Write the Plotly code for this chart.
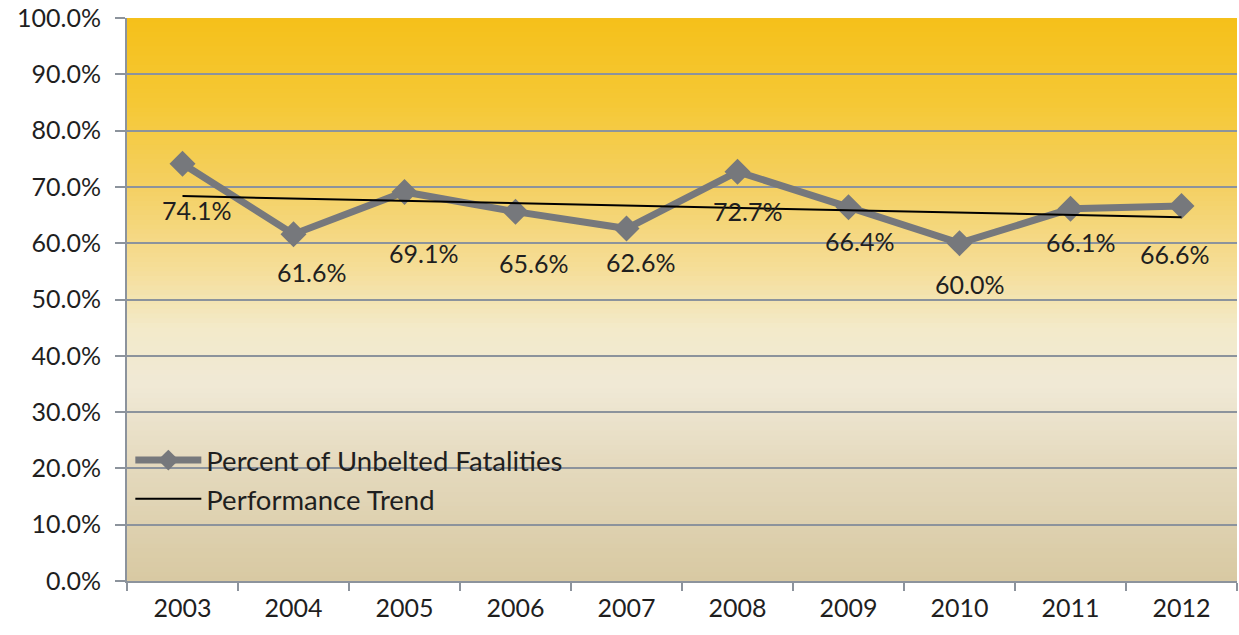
import numpy as np
import plotly.graph_objects as go

years = ["2003", "2004", "2005", "2006", "2007", "2008", "2009", "2010", "2011", "2012"]
unbelted_pct = [74.1, 61.6, 69.1, 65.6, 62.6, 72.7, 66.4, 60.0, 66.1, 66.6]
y_ticks = [0, 10, 20, 30, 40, 50, 60, 70, 80, 90, 100]
y_tick_labels = [f"{v:.1f}%" for v in y_ticks]

# label offsets (pixels) — styling only
label_dx = [14, 18, 19, 18, 14, 10, 11, 10, 10, -7]
label_dy = [-46, -38, -61, -51, -33, -39, -34, -41, -33, -48]

# linear trend from the data
xi = np.arange(len(unbelted_pct))
slope, intercept = np.polyfit(xi, unbelted_pct, 1)
trend = list(slope * xi + intercept)

FONT = "Lato"
GRID = "#8C939C"
TXT = "#1f1f1f"

fig = go.Figure()

# gradient background via thin rectangles
stops = [(0.0, (0xD8, 0xC9, 0xA2)), (0.2, (0xE4, 0xD9, 0xBD)), (0.35, (0xF0, 0xE9, 0xD6)),
         (0.45, (0xF3, 0xEA, 0xC9)), (0.55, (0xF5, 0xDE, 0x9A)), (0.7, (0xF4, 0xD0, 0x62)),
         (0.85, (0xF5, 0xC8, 0x35)), (1.0, (0xF5, 0xC0, 0x1A))]

def col_at(t):
    for (t0, c0), (t1, c1) in zip(stops[:-1], stops[1:]):
        if t0 <= t <= t1:
            f = (t - t0) / (t1 - t0)
            return "rgb(%d,%d,%d)" % tuple(round(a + (b - a) * f) for a, b in zip(c0, c1))
    return "rgb(%d,%d,%d)" % stops[-1][1]

N = 120
shapes = []
for i in range(N):
    y0 = i / N
    y1 = (i + 1) / N + 0.002
    shapes.append(dict(type="rect", xref="paper", yref="paper", x0=0, x1=1, y0=y0, y1=min(y1, 1),
                       fillcolor=col_at((i + 0.5) / N), line_width=0, layer="below"))

fig.add_trace(go.Scatter(
    x=years, y=unbelted_pct, mode="lines+markers", name="Percent of Unbelted Fatalities",
    line=dict(color="#76787C", width=7),
    marker=dict(symbol="diamond", size=20, color="#76787C"),
))
fig.add_trace(go.Scatter(
    x=years, y=trend, mode="lines", name="Performance Trend",
    line=dict(color="#000000", width=2),
))

annotations = []
for i, (v, dx, dy) in enumerate(zip(unbelted_pct, label_dx, label_dy)):
    annotations.append(dict(x=i, y=v, xref="x", yref="y", text=f"{v:.1f}%", showarrow=False,
                            xshift=dx, yshift=dy, font=dict(family=FONT, size=25, color=TXT)))

fig.update_layout(
    width=1239, height=635,
    margin=dict(l=127, r=2, t=18, b=54),
    paper_bgcolor="white", plot_bgcolor="rgba(0,0,0,0)",
    shapes=shapes, annotations=annotations,
    showlegend=True,
    legend=dict(x=0.003, y=0.258, xanchor="left", yanchor="top", bgcolor="rgba(0,0,0,0)",
                font=dict(family=FONT, size=27.5, color=TXT), itemwidth=66,
                tracegroupgap=0),
    xaxis=dict(type="category", tickson="boundaries", ticks="outside", ticklen=8, tickwidth=2,
               tickcolor=GRID, showline=True, linecolor=GRID, linewidth=2, showgrid=False,
               ticklabelstandoff=4, automargin=False,
               tickfont=dict(family=FONT, size=25, color=TXT), range=[-0.5, 9.5]),
    yaxis=dict(range=[0, 100], tickvals=y_ticks, ticktext=y_tick_labels, ticks="outside",
               ticklen=10, tickwidth=2, tickcolor=GRID, showline=True, linecolor=GRID, linewidth=2,
               gridcolor=GRID, gridwidth=2, zeroline=False, ticklabelstandoff=9, automargin=False,
               ticklabeloverflow="allow",
               tickfont=dict(family=FONT, size=25, color=TXT)),
)

fig.write_html("out.html", config={"displayModeBar": False},
               post_script="document.body.style.margin='0';document.body.style.overflow='hidden';")
